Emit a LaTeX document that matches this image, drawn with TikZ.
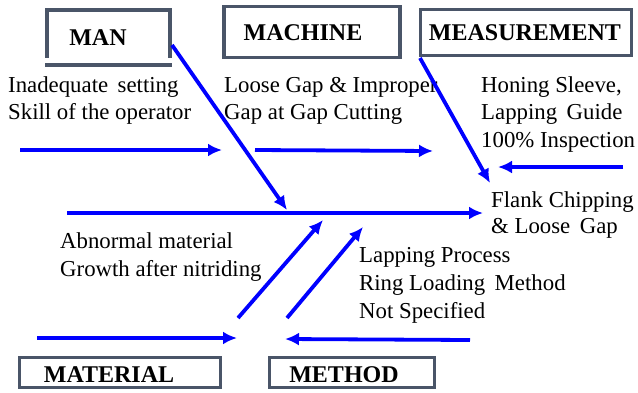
\documentclass[tikz,border=0pt]{standalone}
\usepackage{fontspec}
\setmainfont{Liberation Serif}
\newfontfamily\diagserif{Liberation Serif}
\usetikzlibrary{arrows.meta}
\definecolor{boxgray}{RGB}{74,85,104}
\definecolor{ribblue}{RGB}{0,0,255}
\tikzset{
  catbox/.style={draw=boxgray, line width=3.8pt, fill=white, inner sep=0pt},
  openbox/.style={draw=none, inner sep=0pt},
  boxline/.style={draw=boxgray, line width=3.8pt},
  cattext/.style={anchor=base, inner sep=0pt, font=\diagserif\fontsize{24}{28}\selectfont\bfseries},
  cause/.style={anchor=base west, inner sep=0pt, font=\diagserif\fontsize{22.8}{27}\selectfont},
  rib/.style={draw=ribblue, line width=3.8pt, -{Latex[length=14pt,width=13pt]}},
}
\begin{document}
\begin{tikzpicture}[x=1pt,y=-1pt]
\useasboundingbox (0,0) rectangle (638,392);

% category boxes (the MAN box has a detached bottom rule)
\node[openbox, minimum width=122pt, minimum height=47pt] (man) at (108.5,34) {};
\draw[boxline] (man.south west) -- (man.north west) -- (man.north east) -- (man.south east);
\coordinate (manbl) at (45,65);
\coordinate (manbr) at (172,65);
\draw[boxline] (manbl) -- (manbr);
\node[catbox, minimum width=176pt, minimum height=51pt] (machine) at (312,32) {};
\node[catbox, minimum width=211pt, minimum height=46pt] (meas) at (526,32.5) {};
\node[catbox, minimum width=201pt, minimum height=30pt] (material) at (120,372.5) {};
\node[catbox, minimum width=165pt, minimum height=30pt] (method) at (352,372.5) {};

\node[cattext] (mant) at (98,45) {MAN};
\node[cattext] (machinet) at (303,40) {MACHINE};
\node[cattext] (meast) at (525,40) {MEASUREMENT};
\node[cattext] (materialt) at (109,382) {MATERIAL};
\node[cattext] (methodt) at (344,382) {METHOD};

% cause texts
\node[cause] (c1a) at (8,92) {Inadequate\, setting};
\node[cause] (c1b) at (8,119) {Skill of the operator};
\node[cause] (c2a) at (224,92) {Loose Gap \& Improper};
\node[cause] (c2b) at (224,119) {Gap at Gap Cutting};
\node[cause] (c3a) at (481,92) {Honing Sleeve,};
\node[cause] (c3b) at (481,119) {Lapping\, Guide};
\node[cause] (c3c) at (481,147) {100\% Inspection};
\node[cause] (c4a) at (60,248) {Abnormal material};
\node[cause] (c4b) at (60,276) {Growth after nitriding};
\node[cause] (c5a) at (359,262) {Lapping Process};
\node[cause] (c5b) at (359,290) {Ring Loading\, Method};
\node[cause] (c5c) at (359,318) {Not Specified};
\node[cause] (eff1) at (491,207) {Flank Chipping};
\node[cause] (eff2) at (491,233) {\& Loose\, Gap};

% rib end points
\coordinate (s0) at (67,213);   \coordinate (s1) at (483,213);
\coordinate (a0) at (20,150);   \coordinate (a1) at (222,150);
\coordinate (b0) at (255,150);  \coordinate (b1) at (433,151);
\coordinate (m0) at (623,167);  \coordinate (m1) at (498,167);
\coordinate (d0) at (172,45);   \coordinate (d1) at (287,210);
\coordinate (e0) at (420,58);   \coordinate (e1) at (490,183);
\coordinate (f0) at (238,318);  \coordinate (f1) at (323,220);
\coordinate (g0) at (287,318);  \coordinate (g1) at (363,227);
\coordinate (h0) at (37,338);   \coordinate (h1) at (237,338);
\coordinate (k0) at (470,340);  \coordinate (k1) at (285,339);

% spine and ribs
\draw[rib] (s0) -- (s1);
\draw[rib] (a0) -- (a1);
\draw[rib] (b0) -- (b1);
\draw[rib] (m0) -- (m1);
\draw[rib] (d0) -- (d1);
\draw[rib] (e0) -- (e1);
\draw[rib] (f0) -- (f1);
\draw[rib] (g0) -- (g1);
\draw[rib] (h0) -- (h1);
\draw[rib] (k0) -- (k1);
\end{tikzpicture}
\end{document}
